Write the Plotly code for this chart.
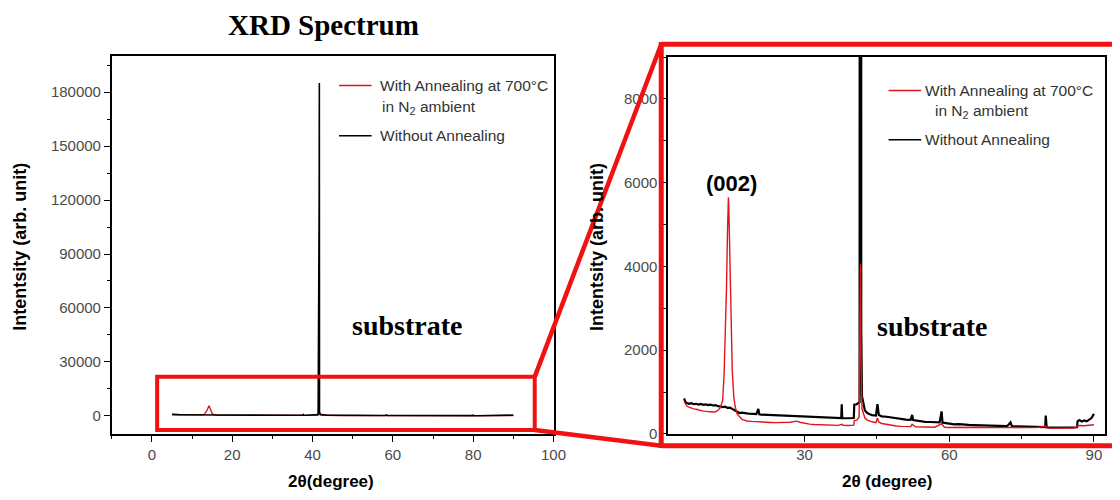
import plotly.graph_objects as go

W, H = 1120, 500

# XRD scan without annealing (2-theta in degrees, intensity in arb. units)
two_theta_plain = [
    5.0, 5.3, 5.6, 6.0, 6.5, 7.0, 7.5, 8.0, 8.5, 9.0, 9.5, 10.0, 10.5, 11.0, 11.5,
    12.0, 12.5, 13.0, 13.5, 14.0, 14.5, 15.0, 15.5, 16.0, 16.5, 17.0, 17.5, 18.0,
    18.5, 19.0, 19.5, 20.0, 20.4, 20.6, 21.0, 22.0, 23.0, 24.0, 25.0, 26.0, 27.0,
    28.0, 29.0, 30.0, 31.0, 32.0, 33.0, 34.0, 35.0, 36.0, 37.0, 37.6, 37.7, 37.8,
    38.5, 39.5, 40.2, 40.3, 40.8, 41.4, 41.66, 41.7, 41.74, 41.9, 42.5, 43.0, 43.5,
    44.0, 44.8, 45.1, 45.4, 46.0, 47.0, 48.0, 49.0, 50.0, 51.0, 52.0, 52.3, 52.5,
    53.0, 54.0, 55.0, 56.0, 57.0, 58.0, 58.4, 58.6, 59.0, 60.0, 61.0, 62.0, 63.0,
    64.0, 65.0, 66.0, 67.0, 68.0, 69.0, 70.0, 71.0, 72.0, 72.7, 73.0, 74.0, 75.0,
    76.0, 77.0, 78.0, 79.0, 79.9, 80.0, 80.2, 81.0, 82.0, 83.0, 84.0, 85.0, 86.0,
    86.5, 86.6, 87.0, 87.5, 88.0, 88.5, 89.0, 89.5, 90.0,
]
intensity_plain = [
    850, 760, 740, 720, 735, 710, 720, 700, 715, 695, 705, 690, 700, 680, 690,
    665, 660, 640, 650, 625, 630, 600, 560, 520, 500, 510, 495, 490,
    485, 480, 470, 475, 600, 470, 460, 455, 440, 440, 430, 425, 420,
    415, 410, 410, 405, 400, 395, 400, 390, 385, 385, 380, 710, 380,
    375, 370, 380, 700, 710, 760, 121000, 185000, 2500, 900, 560, 500, 470,
    450, 440, 710, 450, 420, 410, 390, 370, 350, 340, 335, 455, 330,
    320, 300, 290, 285, 280, 275, 540, 270, 265, 240, 230, 235, 220,
    215, 210, 205, 200, 195, 195, 190, 185, 185, 275, 180, 180, 175,
    175, 170, 170, 165, 165, 440, 160, 150, 150, 145, 145, 145, 150,
    160, 300, 330, 295, 320, 300, 340, 380, 480,
]

# XRD scan after annealing at 700 °C in N2
two_theta_annealed = [
    5.0, 5.3, 5.6, 6.0, 6.5, 7.0, 7.5, 8.0, 8.5, 9.0, 9.5, 10.0, 10.5, 11.0, 11.5,
    12.0, 12.5, 13.0, 13.3, 13.6, 13.8, 14.0, 14.2, 14.3, 14.5, 14.7, 15.0, 15.3,
    15.6, 16.0, 16.5, 17.0, 17.5, 18.0, 19.0, 20.0, 21.0, 22.0, 23.0, 24.0, 25.0,
    26.0, 27.0, 28.0, 28.6, 29.0, 30.0, 31.0, 32.0, 33.0, 34.0, 35.0, 36.0, 37.0,
    37.7, 38.0, 39.0, 40.0, 40.2, 40.3, 40.8, 41.3, 41.5, 41.58, 41.7, 41.9, 42.5,
    43.0, 44.0, 44.8, 45.1, 45.4, 46.0, 47.0, 48.0, 49.0, 50.0, 52.0, 52.3, 53.0,
    55.0, 57.0, 58.4, 59.0, 60.0, 62.0, 64.0, 66.0, 68.0, 70.0, 72.0, 74.0, 76.0,
    78.0, 80.0, 80.2, 82.0, 84.0, 86.0, 86.6, 87.0, 88.0, 89.0, 90.0,
]
intensity_annealed = [
    780, 700, 660, 640, 610, 600, 590, 570, 560, 545, 540, 530, 520, 525, 530,
    560, 620, 800, 1400, 2500, 3500, 4800, 5650, 5300, 4000, 2800, 1500, 900,
    650, 480, 400, 350, 330, 310, 300, 290, 285, 280, 275, 270, 270,
    275, 280, 300, 300, 280, 250, 235, 225, 220, 215, 215, 210, 205,
    230, 205, 200, 200, 210, 320, 330, 400, 2600, 4050, 1800, 600, 380,
    330, 290, 270, 380, 280, 250, 230, 200, 190, 180, 175, 230, 170,
    165, 160, 240, 160, 155, 160, 155, 160, 150, 155, 150, 155, 150,
    150, 190, 145, 140, 140, 140, 190, 200, 195, 200, 220,
]

BLACK = "#000000"
RED = "#e0141c"
BOX_RED = "#f01212"
TICK_FONT = dict(family="Liberation Sans, Arial, sans-serif", size=15, color="#4a4a4a")


def fx(x):
    return x / W


def fy(y):
    return 1 - y / H


fig = go.Figure()

# full-range view: annealed under, as-deposited on top
fig.add_trace(go.Scatter(x=two_theta_annealed, y=intensity_annealed, mode="lines",
                         line=dict(color=RED, width=1.3), xaxis="x", yaxis="y"))
fig.add_trace(go.Scatter(x=two_theta_plain, y=intensity_plain, mode="lines",
                         line=dict(color=BLACK, width=1.6), xaxis="x", yaxis="y"))
# low-intensity view
fig.add_trace(go.Scatter(x=two_theta_plain, y=intensity_plain, mode="lines",
                         line=dict(color=BLACK, width=2.2), xaxis="x2", yaxis="y2"))
fig.add_trace(go.Scatter(x=two_theta_annealed, y=intensity_annealed, mode="lines",
                         line=dict(color=RED, width=1.4), xaxis="x2", yaxis="y2"))


def axis(domain, rng, dtick, minor_dtick, anchor):
    return dict(
        domain=domain, range=rng, anchor=anchor,
        tick0=0, dtick=dtick, ticks="outside", ticklen=6, tickwidth=1.3, tickcolor=BLACK,
        minor=dict(dtick=minor_dtick, tick0=0, ticks="outside", ticklen=3,
                   tickwidth=1.3, tickcolor=BLACK),
        showline=True, linecolor=BLACK, linewidth=1.5, mirror=True,
        showgrid=False, zeroline=False, tickfont=TICK_FONT, tickformat="d",
    )


fig.update_layout(
    width=W, height=H, margin=dict(l=0, r=0, t=0, b=0),
    paper_bgcolor="white", plot_bgcolor="white", showlegend=False,
    xaxis=axis([fx(113), fx(560)], [-10, 100], 20, 10, "y"),
    yaxis=axis([fy(441), fy(57)], [-10000, 200000], 30000, 15000, "x"),
    xaxis2=axis([fx(676), fx(1118)], [1.7, 92.3], 30, 15, "y2"),
    yaxis2=axis([fy(441), fy(58)], [0, 9000], 2000, 1000, "x2"),
)

SANS_BOLD = "Liberation Sans, Arial, sans-serif"
SERIF = "Liberation Serif, Times New Roman, serif"
LEG_FONT = dict(family="Liberation Sans, Arial, sans-serif", size=15.5, color="#333333")
AX_TITLE = dict(family=SANS_BOLD, size=18, color=BLACK)


def note(text, x, y, font, xanchor="center", angle=0):
    fig.add_annotation(text=text, x=fx(x), y=fy(y), xref="paper", yref="paper",
                       showarrow=False, xanchor=xanchor, yanchor="middle",
                       textangle=angle, font=font)


note("<b>XRD Spectrum</b>", 327, 25, dict(family=SERIF, size=29, color=BLACK))
note("<b>Intentsity (arb. unit)</b>", 20, 251, AX_TITLE, angle=-90)
note("<b>Intentsity (arb. unit)</b>", 604, 251, AX_TITLE, angle=-90)
note("<b>2θ(degree)</b>", 335, 489, dict(family=SANS_BOLD, size=17, color=BLACK))
note("<b>2θ (degree)</b>", 897, 489, dict(family=SANS_BOLD, size=17, color=BLACK))
note("<b>substrate</b>", 412, 331, dict(family=SERIF, size=28, color=BLACK))
note("<b>substrate</b>", 943, 332, dict(family=SERIF, size=28, color=BLACK))
note("<b>(002)</b>", 740, 186, dict(family=SANS_BOLD, size=22, color=BLACK))

# legend blocks
note("With Annealing at 700°C", 382, 87, LEG_FONT, xanchor="left")
note("in N<sub>2</sub> ambient", 384, 109, LEG_FONT, xanchor="left")
note("Without Annealing", 382, 138, LEG_FONT, xanchor="left")
note("With Annealing at 700°C", 934, 92, LEG_FONT, xanchor="left")
note("in N<sub>2</sub> ambient", 944, 113, LEG_FONT, xanchor="left")
note("Without Annealing", 934, 142, LEG_FONT, xanchor="left")

shapes = []


def seg(x0, y0, x1, y1, color, width):
    shapes.append(dict(type="line", xref="paper", yref="paper",
                       x0=fx(x0), y0=fy(y0), x1=fx(x1), y1=fy(y1),
                       line=dict(color=color, width=width), layer="above"))


seg(343, 87, 376, 87, RED, 1.5)
seg(343, 138, 376, 138, BLACK, 1.5)
seg(899, 92, 932, 92, RED, 1.5)
seg(899, 142, 932, 142, BLACK, 1.5)

# zoom-in frame linking the two panels
shapes.append(dict(type="rect", xref="paper", yref="paper",
                   x0=fx(159), y0=fy(437), x1=fx(541), y1=fy(383),
                   line=dict(color=BOX_RED, width=4), layer="above"))
seg(541, 383, 669, 45, BOX_RED, 4.5)
seg(541, 437, 669, 453, BOX_RED, 4.5)
seg(669, 42.8, 669, 455.2, BOX_RED, 5)
seg(669, 45, 1125, 45, BOX_RED, 5)
seg(669, 453, 1125, 453, BOX_RED, 5)

fig.update_layout(shapes=shapes)
fig.write_html("out.html")
